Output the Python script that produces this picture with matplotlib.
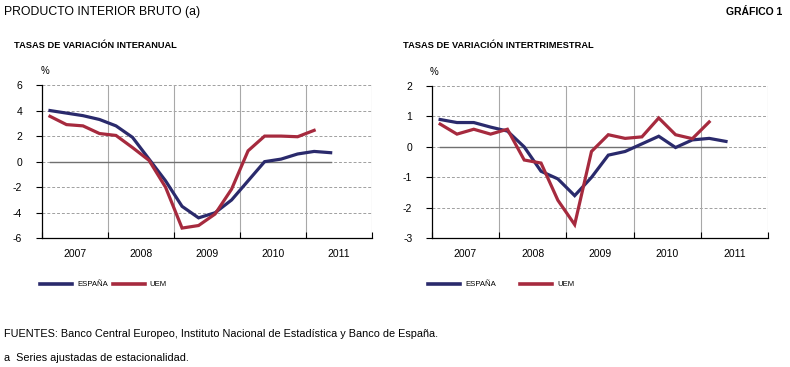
import numpy as np
import matplotlib
matplotlib.use("Agg")
import matplotlib.pyplot as plt

plt.rcParams['font.family'] = ['Liberation Sans', 'DejaVu Sans']

# quarterly data, 2007Q1 onwards
espana_interanual = [4.0, 3.8, 3.6, 3.3, 2.8, 1.9, 0.2, -1.5, -3.5, -4.4, -4.0, -3.0,
                     -1.5, 0.0, 0.2, 0.6, 0.8, 0.7]
uem_interanual = [3.55, 2.9, 2.8, 2.2, 2.05, 1.1, 0.1, -2.0, -5.2, -5.0, -4.1, -2.15,
                  0.85, 2.0, 2.0, 1.95, 2.45]
espana_intertrim = [0.9, 0.8, 0.8, 0.65, 0.52, 0.0, -0.8, -1.05, -1.6, -1.0, -0.27, -0.15,
                    0.1, 0.35, -0.02, 0.23, 0.28, 0.18]
uem_intertrim = [0.75, 0.42, 0.58, 0.42, 0.58, -0.43, -0.53, -1.75, -2.55, -0.15, 0.4, 0.28,
                 0.33, 0.95, 0.4, 0.27, 0.82]
years = [2007, 2008, 2009, 2010, 2011]

navy = '#2a2a6c'
red = '#a62a3e'


def qx(n):
    return 2007 + (np.arange(n) + 0.5) / 4


def draw(ax, esp, uem, yticks):
    ax.set_xlim(2007, 2012)
    ax.set_ylim(yticks[0], yticks[-1])
    for y in yticks[1:]:
        ax.axhline(y, color='#a0a0a0', lw=0.7, ls=(0, (3, 2)), zorder=1)
    for x in years[1:] + [2012]:
        ax.axvline(x, color='#a8a8a8', lw=0.8, zorder=1)
    xs = qx(len(esp))
    ax.plot([xs[0], xs[-1]], [0, 0], color='#707070', lw=1.0, zorder=2)
    ax.plot(xs, esp, color=navy, lw=2.3, zorder=3, solid_joinstyle='miter')
    ax.plot(qx(len(uem)), uem, color=red, lw=2.3, zorder=4, solid_joinstyle='miter')
    for s in ['top', 'right']:
        ax.spines[s].set_visible(False)
    ax.spines['left'].set_linewidth(0.9)
    ax.spines['bottom'].set_linewidth(0.9)
    ax.set_yticks(yticks)
    ax.set_yticklabels([str(v) for v in yticks])
    ax.set_xticks(years + [2012])
    ax.set_xticklabels([])
    ax.set_xticks([y + 0.5 for y in years], minor=True)
    ax.set_xticklabels([str(y) for y in years], minor=True)
    ax.tick_params(axis='x', which='major', direction='in', length=4, width=0.8)
    ax.tick_params(axis='x', which='minor', length=0, pad=8, labelsize=7.5)
    ax.tick_params(axis='y', direction='out', length=4, width=0.8, labelsize=7.5, pad=10)


fig = plt.figure(figsize=(7.9, 3.67), dpi=100)
ax1 = fig.add_axes([0.0528, 0.3507, 0.418, 0.4177])
ax2 = fig.add_axes([0.5465, 0.3507, 0.4257, 0.415])
draw(ax1, espana_interanual, uem_interanual, [-6, -4, -2, 0, 2, 4, 6])
draw(ax2, espana_intertrim, uem_intertrim, [-3, -2, -1, 0, 1, 2])

W, H = 790, 367


def t(x, y, s, **kw):
    fig.text(x / W, 1 - y / H, s, va='center', **kw)


t(4, 12, 'PRODUCTO INTERIOR BRUTO (a)', fontsize=8.8)
t(782, 12, 'GRÁFICO 1', fontsize=7.5, fontweight='bold', ha='right')
t(14, 45, 'TASAS DE VARIACIÓN INTERANUAL', fontsize=6.7, fontweight='bold')
t(403, 45, 'TASAS DE VARIACIÓN INTERTRIMESTRAL', fontsize=6.7, fontweight='bold')
t(41, 71, '%', fontsize=7)
t(430, 72, '%', fontsize=7)

# legends
for (x0, x1, tx, lab, c) in [(40, 72, 77, 'ESPAÑA', navy), (113, 145, 149, 'UEM', red),
                             (428, 460, 465, 'ESPAÑA', navy), (520, 552, 557, 'UEM', red)]:
    fig.add_artist(plt.Line2D([x0 / W, x1 / W], [1 - 284 / H, 1 - 284 / H], color=c, lw=2.6))
    t(tx, 284, lab, fontsize=5.6)

t(4, 334, 'FUENTES: Banco Central Europeo, Instituto Nacional de Estadística y Banco de España.', fontsize=7.8)
t(4, 358, 'a  Series ajustadas de estacionalidad.', fontsize=7.8)

fig.savefig('out.png', dpi=100)
